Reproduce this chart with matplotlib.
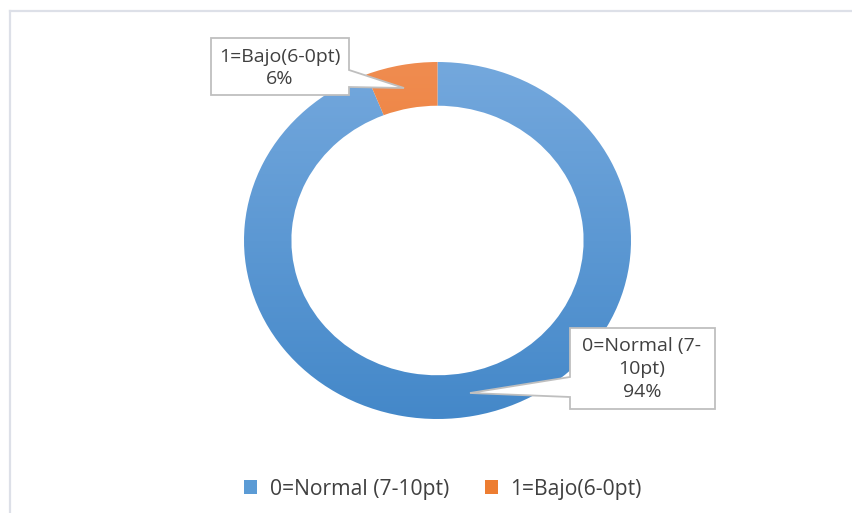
import matplotlib
matplotlib.use('Agg')
import matplotlib.pyplot as plt
import numpy as np
from matplotlib.patches import Polygon, Rectangle
from matplotlib.colors import LinearSegmentedColormap

# datos del grafico
categorias = ['0=Normal (7-10pt)', '1=Bajo(6-0pt)']
valores = [94, 6]
etiquetas = ['0=Normal (7-\n10pt)', '1=Bajo(6-0pt)']

plt.rcParams['font.family'] = ['Open Sans', 'DejaVu Sans']
texto = '#404040'

W, H = 852, 513
fig = plt.figure(figsize=(W/100, H/100), dpi=100)

def capa_pixel():
    a = fig.add_axes([0, 0, 1, 1])
    a.set_xlim(0, W)
    a.set_ylim(H, 0)
    a.axis('off')
    return a

# borde del area del grafico
fondo = capa_pixel()
fondo.plot([9.5, W], [10.5, 10.5], color='#dde0e8', lw=1.6)
fondo.plot([9.5, 9.5], [10.5, H], color='#dde0e8', lw=1.6)

# anillo (dona)
ax = fig.add_axes([244/W, 1-419/H, 387/W, 357/H])
cuñas, _ = ax.pie(valores, startangle=90, counterclock=False, radius=1,
                  wedgeprops=dict(width=0.245, linewidth=0))
ax.set_xlim(-1, 1)
ax.set_ylim(-1, 1)
ax.set_aspect('auto')
ax.axis('off')

# degradado vertical en cada porcion
grad = np.linspace(0, 1, 256).reshape(-1, 1)
mapas = [LinearSegmentedColormap.from_list('az', ['#4488c9', '#74a8dd']),
         LinearSegmentedColormap.from_list('na', ['#e8701f', '#f08c50'])]
for w, cm in zip(cuñas, mapas):
    w.set_alpha(0)
    im = ax.imshow(grad, cmap=cm, extent=(-1, 1, -1, 1), origin='lower',
                   aspect='auto', zorder=2)
    im.set_clip_path(w)

# cuadros de llamada encima del anillo
capa = capa_pixel()

def llamada(caja, base, punta, lado):
    x0, y0, x1, y1 = caja
    b0, b1 = base
    if lado == 'der':
        pts = [(x0, y0), (x1, y0), (x1, b0), punta, (x1, b1), (x1, y1), (x0, y1)]
    else:
        pts = [(x0, y0), (x1, y0), (x1, y1), (x0, y1), (x0, b1), punta, (x0, b0)]
    capa.add_patch(Polygon(pts, closed=True, facecolor='white',
                           edgecolor='#bfbfbf', lw=1.3, zorder=5))

total = sum(valores)
pct = [f'{round(v*100/total)}%' for v in valores]

llamada((211, 38, 349, 95), (70, 87), (404, 88), 'der')
capa.text(280, 68, etiquetas[1] + '\n' + pct[1], ha='center', va='center',
          fontsize=14, color=texto, linespacing=1.35, zorder=6)

llamada((570, 328, 715, 409), (377, 397), (470, 393), 'izq')
capa.text(642, 369, etiquetas[0] + '\n' + pct[0], ha='center', va='center',
          fontsize=14, color=texto, linespacing=1.35, zorder=6)

# leyenda
colores = ['#5b9bd5', '#ed7d31']
manijas = [Rectangle((0, 0), 1, 1, facecolor=c) for c in colores]
fig.legend(manijas, categorias, loc='center', ncol=2, frameon=False,
           bbox_to_anchor=(443/W, 1-489/H), fontsize=15.2, labelcolor=texto,
           handlelength=0.6, handleheight=0.6, handletextpad=0.6,
           columnspacing=1.7)

fig.savefig('out.png', dpi=100)
